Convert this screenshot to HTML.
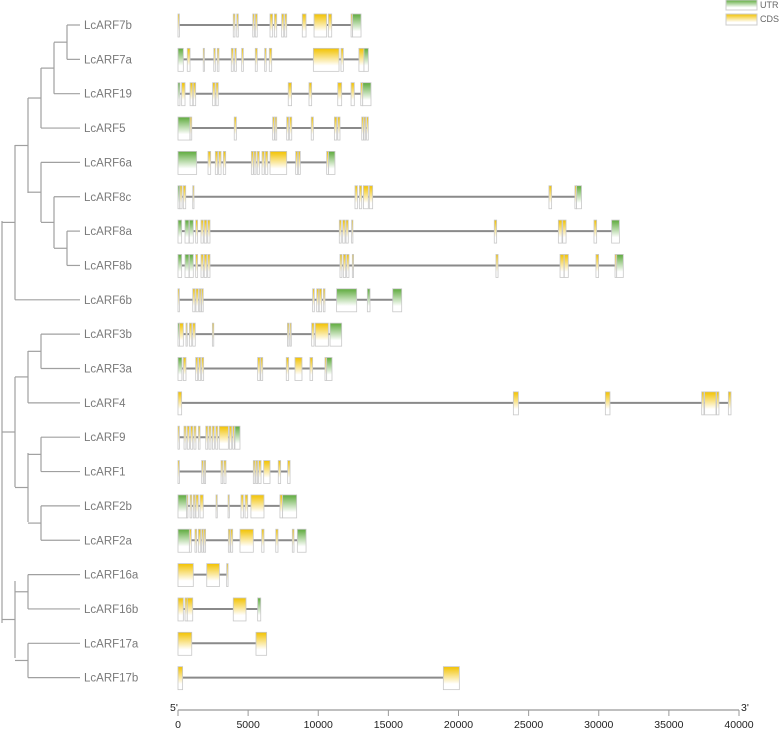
<!DOCTYPE html>
<html><head><meta charset="utf-8"><style>
html,body{margin:0;padding:0;background:#fff;}
svg{display:block;font-family:"Liberation Sans",sans-serif;}
</style></head><body>
<svg id="chart" width="784" height="732" viewBox="0 0 784 732">
<defs>
<linearGradient id="gU" x1="0" y1="0" x2="0" y2="1"><stop offset="0" stop-color="#5daa3c"/><stop offset="0.75" stop-color="#fff"/></linearGradient>
<linearGradient id="gC" x1="0" y1="0" x2="0" y2="1"><stop offset="0" stop-color="#f2c200"/><stop offset="0.75" stop-color="#fff"/></linearGradient>
</defs>
<g id="tree"></g>
<g id="genes"></g>
<g id="axis"></g>
<g>
<rect x="726" y="0" width="31" height="10" fill="url(#gU)" stroke="#ccc"/>
<text x="760" y="8" font-size="9" fill="#666">UTR</text>
<rect x="726" y="14" width="31" height="11" fill="url(#gC)" stroke="#ccc"/>
<text x="760" y="22" font-size="9" fill="#666">CDS</text>
</g>
</svg>
<script>
const geneNames=["LcARF7b","LcARF7a","LcARF19","LcARF5","LcARF6a","LcARF8c","LcARF8a","LcARF8b","LcARF6b","LcARF3b","LcARF3a","LcARF4","LcARF9","LcARF1","LcARF2b","LcARF2a","LcARF16a","LcARF16b","LcARF17a","LcARF17b"];
const axisTicks=[0,5000,10000,15000,20000,25000,30000,35000,40000];
// exons in kb: [start,end,type] U=UTR C=CDS
const exons=[
[[0,0.1,"C"],[3.94,4.06,"C"],[4.19,4.3,"C"],[5.33,5.44,"C"],[5.51,5.65,"C"],[6.56,6.75,"C"],[6.87,7.04,"C"],[7.39,7.54,"C"],[7.61,7.75,"C"],[8.86,9.13,"C"],[9.7,10.6,"C"],[10.72,10.96,"C"],[12.34,12.45,"C"],[12.45,13.05,"U"]],
[[0,0.38,"U"],[0.66,0.86,"C"],[1.8,1.88,"C"],[2.55,2.66,"C"],[2.8,2.92,"C"],[3.8,3.94,"C"],[4.04,4.16,"C"],[4.54,4.66,"C"],[5.51,5.65,"C"],[6.18,6.29,"C"],[6.51,6.68,"C"],[9.65,11.48,"C"],[11.62,11.79,"C"],[12.9,13.26,"C"],[13.26,13.57,"U"]],
[[0,0.14,"U"],[0.26,0.5,"C"],[0.86,1.05,"C"],[1.09,1.26,"C"],[2.47,2.64,"C"],[2.71,2.87,"C"],[7.86,8.1,"C"],[9.34,9.53,"C"],[11.39,11.67,"C"],[12.34,12.57,"C"],[13.03,13.17,"C"],[13.17,13.76,"U"]],
[[0,0.86,"U"],[0.86,0.98,"C"],[4.01,4.16,"C"],[6.75,6.87,"C"],[6.92,7.04,"C"],[7.75,7.89,"C"],[7.96,8.11,"C"],[9.5,9.65,"C"],[11.15,11.32,"C"],[11.39,11.55,"C"],[13.1,13.22,"C"],[13.26,13.38,"C"],[13.45,13.57,"C"]],
[[0,1.33,"U"],[2.14,2.33,"C"],[2.66,2.83,"C"],[2.9,3.07,"C"],[3.23,3.4,"C"],[5.23,5.37,"C"],[5.42,5.56,"C"],[5.65,5.8,"C"],[5.99,6.15,"C"],[6.22,6.4,"C"],[6.56,7.75,"C"],[8.39,8.53,"C"],[8.58,8.72,"C"],[10.6,10.74,"C"],[10.74,11.19,"U"]],
[[0,0.12,"U"],[0.14,0.29,"C"],[0.38,0.55,"C"],[1.05,1.14,"C"],[12.62,12.79,"C"],[12.93,13.1,"C"],[13.22,13.57,"C"],[13.64,13.88,"C"],[26.45,26.64,"C"],[28.3,28.42,"C"],[28.42,28.77,"U"]],
[[0,0.26,"U"],[0.5,0.78,"U"],[0.81,1.09,"U"],[1.26,1.4,"C"],[1.64,1.8,"C"],[1.87,2.05,"C"],[2.12,2.28,"C"],[11.5,11.64,"C"],[11.74,11.91,"C"],[11.98,12.14,"C"],[12.38,12.47,"C"],[22.55,22.72,"C"],[27.12,27.38,"C"],[27.43,27.67,"C"],[29.66,29.85,"C"],[30.92,31.47,"U"]],
[[0,0.26,"U"],[0.5,0.78,"U"],[0.81,1.09,"U"],[1.26,1.4,"C"],[1.64,1.8,"C"],[1.87,2.05,"C"],[2.12,2.28,"C"],[11.55,11.69,"C"],[11.79,11.96,"C"],[12.03,12.19,"C"],[12.43,12.52,"C"],[22.67,22.82,"C"],[27.24,27.52,"C"],[27.54,27.83,"C"],[29.8,29.99,"C"],[31.16,31.28,"C"],[31.28,31.75,"U"]],
[[0,0.1,"C"],[1.05,1.21,"C"],[1.28,1.45,"C"],[1.52,1.64,"C"],[1.69,1.8,"C"],[9.6,9.72,"C"],[9.89,10.03,"C"],[10.07,10.24,"C"],[10.36,10.48,"C"],[11.31,12.74,"U"],[13.5,13.69,"U"],[15.31,15.95,"U"]],
[[0,0.1,"U"],[0.1,0.38,"C"],[0.57,0.66,"C"],[0.81,0.98,"C"],[1.05,1.23,"C"],[2.45,2.55,"C"],[7.8,7.91,"C"],[7.99,8.08,"C"],[9.53,9.7,"C"],[9.79,10.72,"C"],[10.84,11.67,"U"]],
[[0,0.28,"U"],[0.38,0.57,"C"],[1.26,1.4,"C"],[1.47,1.62,"C"],[1.69,1.83,"C"],[5.68,5.85,"C"],[5.9,6.04,"C"],[7.72,7.89,"C"],[8.34,8.84,"C"],[9.41,9.6,"C"],[10.48,10.6,"C"],[10.6,10.98,"U"]],
[[0,0.26,"C"],[23.91,24.27,"C"],[30.47,30.8,"C"],[37.34,37.5,"C"],[37.55,38.36,"C"],[38.4,38.57,"C"],[39.24,39.43,"C"]],
[[0,0.1,"C"],[0.43,0.57,"C"],[0.66,0.81,"C"],[0.9,1.05,"C"],[1.14,1.28,"C"],[1.45,1.57,"C"],[1.98,2.12,"C"],[2.21,2.35,"C"],[2.45,2.59,"C"],[2.69,2.83,"C"],[2.94,3.59,"C"],[3.66,3.83,"C"],[3.9,4.02,"C"],[4.06,4.42,"U"]],
[[0,0.1,"C"],[1.69,1.8,"C"],[1.87,1.97,"C"],[3.07,3.19,"C"],[3.28,3.42,"C"],[5.37,5.49,"C"],[5.56,5.68,"C"],[5.75,5.92,"C"],[6.11,6.56,"C"],[7.15,7.32,"C"],[7.82,7.99,"C"]],
[[0,0.62,"U"],[0.62,0.7,"C"],[0.86,0.98,"C"],[1.09,1.21,"C"],[1.28,1.45,"C"],[1.57,1.8,"C"],[2.71,2.8,"C"],[3.57,3.66,"C"],[4.49,4.66,"C"],[4.78,4.97,"C"],[5.2,6.13,"C"],[7.27,7.46,"C"],[7.46,8.46,"U"]],
[[0,0.81,"U"],[0.81,0.95,"C"],[1.21,1.33,"C"],[1.45,1.62,"C"],[1.69,1.8,"C"],[1.85,1.97,"C"],[3.59,3.71,"C"],[3.76,3.9,"C"],[4.42,5.37,"C"],[5.97,6.13,"C"],[6.97,7.13,"C"],[8.15,8.27,"C"],[8.51,9.13,"U"]],
[[0,1.09,"C"],[2.05,2.95,"C"],[3.47,3.57,"C"]],
[[0,0.38,"C"],[0.5,0.66,"C"],[0.66,1.05,"C"],[3.94,4.85,"C"],[5.68,5.9,"U"]],
[[0,0.98,"C"],[5.56,6.32,"C"]],
[[0,0.33,"C"],[18.92,20.06,"C"]]
];
const NS="http://www.w3.org/2000/svg";
const X0=178,X1=739,MAXBP=40000;
function xs(bp){return X0+(bp/MAXBP)*(X1-X0);}
function xk(kb){return xs(kb*1000);}
function ys(i){return 25+i*34.35;}
function mk(tag,attrs,parent){const e=document.createElementNS(NS,tag);for(const k in attrs)e.setAttribute(k,attrs[k]);parent.appendChild(e);return e;}
const genesG=document.getElementById('genes');
exons.forEach((list,i)=>{
  const g=mk('g',{},genesG);
  
  
  const y=ys(i);
  const end=Math.max(...list.map(e=>e[1]));
  const ln=mk('line',{x1:xk(0),x2:xk(end),y1:y,y2:y,stroke:'#8a8a8a','stroke-width':2},g);
  
  
  list.forEach(e=>{
    const x=xk(e[0]),w=Math.max(xk(e[1])-x,1.2);
    const r=mk('rect',{x:x,y:y-11,width:w,height:23,fill:e[2]==='U'?'url(#gU)':'url(#gC)',stroke:'#c8c8c8','stroke-width':0.8},g);
    
    
  });
  const t=mk('text',{x:84,y:y+4,'font-size':11.5,fill:'#7a7a7a'},g);
  t.textContent=geneNames[i];
  
  
});
// tree
const treeG=document.getElementById('tree');
function seg(x1,y1,x2,y2){const l=mk('line',{x1:x1,y1:y1,x2:x2,y2:y2,stroke:'#a0a0a0','stroke-width':1.2},treeG);}
// nodes: [x, yTop, yBottom, parentX]
const nodes=[
[67,ys(0),ys(1),54],[54,42.5,ys(2),41],[41,68,ys(3),28],[54,ys(6),ys(7)+0,41],
[67,ys(6),ys(7),54],[54,ys(5),248,41],[41,ys(4),222,28],[28,98,193,15],[15,145,ys(8),2],
[41,ys(9),ys(10),28],[28,351,ys(11),15],[41,ys(12),ys(13),28],[41,ys(14),ys(15),28],[28,453,522,15],[15,377,487,2],
[28,ys(16),ys(17),15],[28,ys(18),ys(19),15],[15,581,658,2],[2,221,623,2]
];
nodes.forEach((n,k)=>{if(k===3)return;seg(n[0],n[1],n[0],n[2]);const m=(n[1]+n[2])/2;if(n[0]!==n[3])seg(n[3],m,n[0],m);});
// leaves
const leafParentX=[67,67,54,41,41,54,67,67,15,41,41,28,41,41,41,41,28,28,28,28];
leafParentX.forEach((px,i)=>seg(px,ys(i),80,ys(i)));
// axis
const ax=document.getElementById('axis');
const al=mk('line',{x1:X0,x2:X1,y1:710,y2:710,stroke:'#999','stroke-width':1.2},ax);

axisTicks.forEach(v=>{
  const x=xs(v);
  const tk=mk('line',{x1:x,x2:x,y1:710,y2:716,stroke:'#999','stroke-width':1},ax);
  
  const t=mk('text',{x:x,y:728,'font-size':10.5,'text-anchor':'middle',fill:'#222'},ax);
  t.textContent=v;
  
});
const f=mk('text',{x:170,y:711,'font-size':10.5,fill:'#222'},ax);f.textContent="5'";

const th=mk('text',{x:741,y:711,'font-size':10.5,fill:'#222'},ax);th.textContent="3'";

</script>
</body></html>
